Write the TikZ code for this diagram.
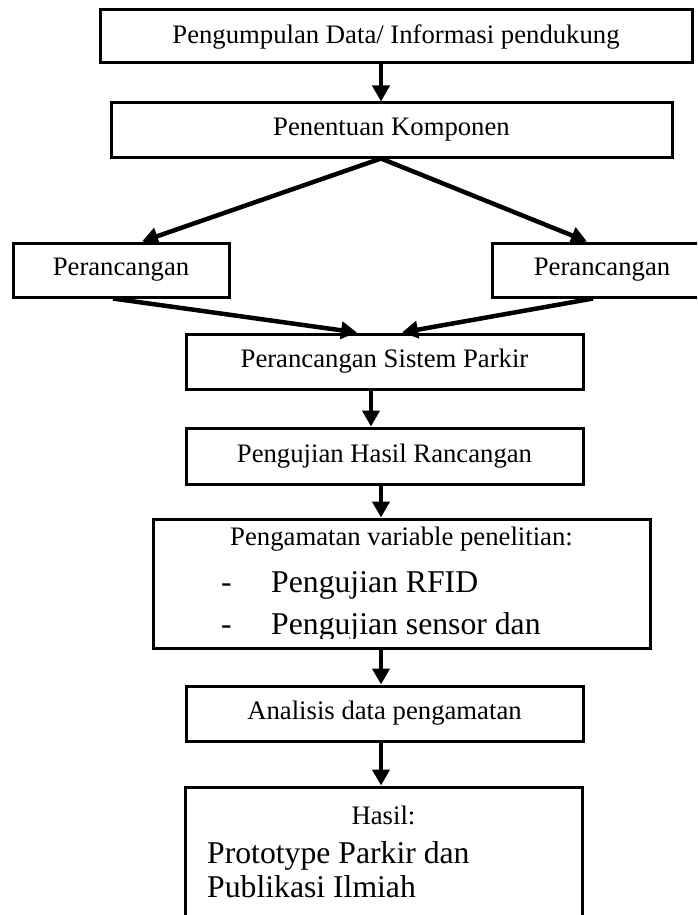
\documentclass[tikz,border=0pt]{standalone}
\usepackage{fontspec}
\setmainfont{Liberation Serif}
\usetikzlibrary{arrows.meta}
\begin{document}
\begin{tikzpicture}[x=1pt,y=-1pt,
  box/.style={draw=black,line width=3pt,rectangle,inner sep=0pt,font=\fontsize{26.7}{32}\selectfont},
  arr/.style={line width=4.5pt,-{Triangle[length=16pt,width=17pt]}},
  big/.style={font=\fontsize{31.7}{36}\selectfont,inner sep=0pt},
  norm/.style={font=\fontsize{26.7}{32}\selectfont,inner sep=0pt}]
\clip (0,0) rectangle (697,915);
\fill[white] (0,0) rectangle (697,915);
% boxes
\node[box,minimum width=592pt,minimum height=53pt] (b1) at (396,36.5) {Pengumpulan Data/ Informasi pendukung};
\node[box,minimum width=561pt,minimum height=54pt] (b2) at (391.5,130) {Penentuan Komponen};
\node[box,minimum width=216pt,minimum height=54pt] (l) at (121,270) {Perancangan};
\node[box,minimum width=220pt,minimum height=54pt] (r) at (602,270) {Perancangan};
\node[box,minimum width=397pt,minimum height=55pt] (b3) at (384.5,361.5) {Perancangan Sistem Parkir};
\node[box,minimum width=397pt,minimum height=56pt] (b4) at (384.5,456) {Pengujian Hasil Rancangan};
\node[box,minimum width=497pt,minimum height=129pt] (b5) at (401.5,583.5) {};
\node[box,minimum width=397pt,minimum height=55pt] (b6) at (384.5,713.5) {Analisis data pengamatan};
\node[box,minimum width=397pt,minimum height=173pt] (b7) at (383.5,873.5) {};
% box 5 text
\node[norm,anchor=base] (t5) at (401.5,545) {Pengamatan variable penelitian:};
\begin{scope}
\clip (153,519) rectangle (650,638);
\node[big,anchor=base west] (d1) at (221,592) {-};
\node[big,anchor=base west] (s1) at (271,592) {Pengujian RFID};
\node[big,anchor=base west] (d2) at (221,634) {-};
\node[big,anchor=base west] (s2) at (271,634) {Pengujian sensor dan};
\end{scope}
% box 7 text
\node[norm,anchor=base] (t7) at (383.5,824) {Hasil:};
\node[big,anchor=base west] (p1) at (207,863) {Prototype Parkir dan};
\node[big,anchor=base west] (p2) at (207,897) {Publikasi Ilmiah};
% connectors
\coordinate (ax) at (381,0);
\coordinate (ay) at (371,0);
\draw[arr] (ax |- b1.south) -- (ax |- b2.north);
\draw[arr] (ax |- b2.south) -- ([xshift=21pt]l.north);
\draw[arr] (ax |- b2.south) -- ([xshift=-15pt]r.north);
\draw[arr] ([xshift=-8pt]l.south) -- ([xshift=-27.5pt]b3.north);
\draw[arr] ([xshift=-9pt]r.south) -- ([xshift=17.5pt]b3.north);
\draw[arr] (ay |- b3.south) -- (ay |- b4.north);
\draw[arr] (ax |- b4.south) -- (ax |- b5.north);
\draw[arr] (ax |- b5.south) -- (ax |- b6.north);
\draw[arr] (ax |- b6.south) -- (ax |- b7.north);
\end{tikzpicture}
\end{document}
